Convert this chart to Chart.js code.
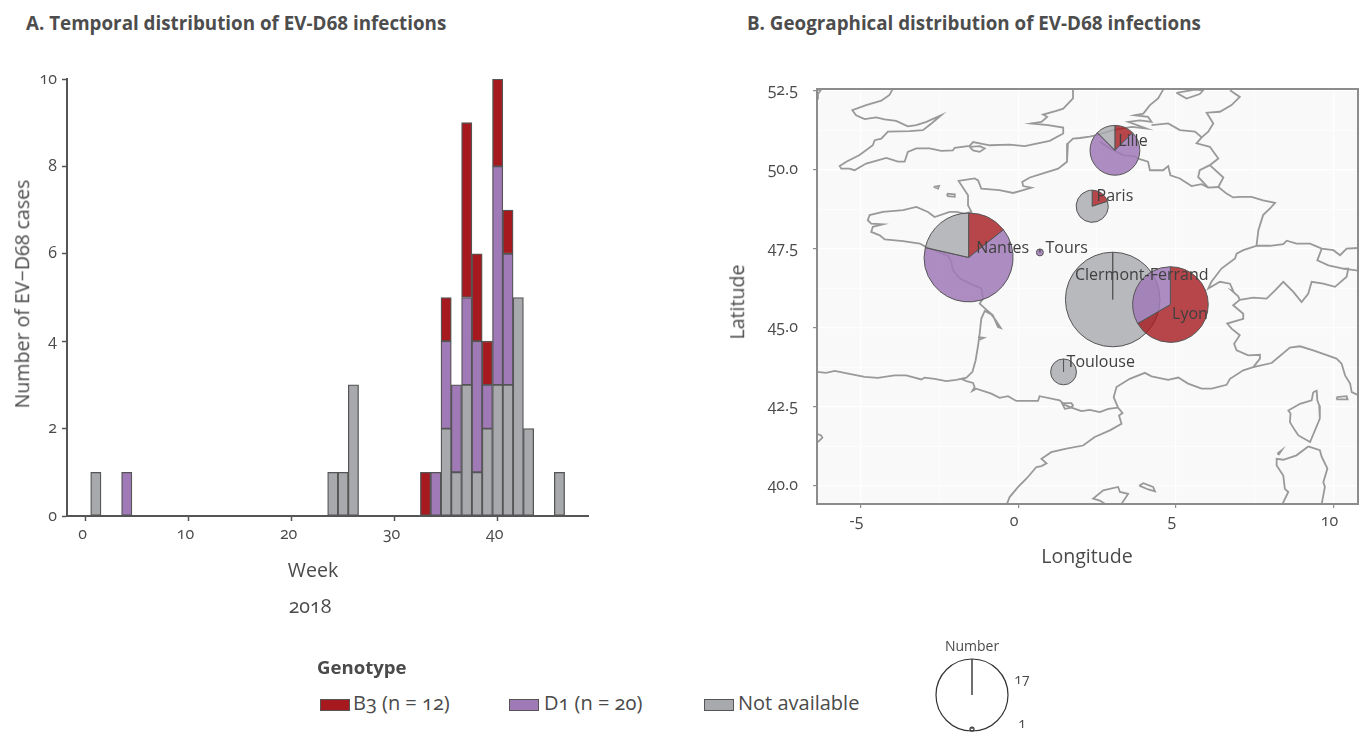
<!DOCTYPE html>
<html>
<head>
<meta charset="utf-8">
<script src="https://cdn.jsdelivr.net/npm/chart.js@4"></script>
<style>
  body { margin: 0; background: #fff; width: 1365px; height: 733px; overflow: hidden; position: relative;
         font-family: "Open Sans", sans-serif; color: #4a4a4a; font-variant-numeric: oldstyle-nums; }
  canvas { position: absolute; }
  .txt { position: absolute; white-space: nowrap; line-height: 1; }
  .title { font-weight: 700; font-size: 18.8px; top: 14px; color: #4d4d4d; }
  .axis { font-size: 19.6px; font-weight: 400; }
  .rot { transform: translate(-50%, -50%) rotate(-90deg); }
  .mid { transform: translate(-50%, -50%); }
  .swatch { position: absolute; width: 28px; height: 10px; border: 1.5px solid #555; }
  .leg { font-size: 20px; top: 693px; }
</style>
</head>
<body>
<div class="txt title" style="left:26px">A. Temporal distribution of EV-D68 infections</div>
<div class="txt title" style="left:747px">B. Geographical distribution of EV-D68 infections</div>

<canvas id="weekChart" width="600" height="500" style="left:0;top:70px"></canvas>
<canvas id="mapChart" width="645" height="510" style="left:720px;top:70px"></canvas>
<canvas id="sizeChart" width="84" height="80" style="left:930px;top:653px"></canvas>

<div class="txt axis rot" style="left:22px;top:294px">Number of EV−D68 cases</div>
<div class="txt axis mid" style="left:313px;top:570px">Week</div>
<div class="txt axis mid" style="left:310px;top:606px">2018</div>
<div class="txt axis rot" style="left:737px;top:302px">Latitude</div>
<div class="txt axis mid" style="left:1087px;top:556px">Longitude</div>

<div class="txt" style="left:317px;top:658px;font-size:18.6px;font-weight:700">Genotype</div>
<div class="swatch" style="left:320px;top:699px;background:#a6191e"></div>
<div class="txt leg" style="left:353px">B3 (n = 12)</div>
<div class="swatch" style="left:509px;top:699px;background:#a079b7"></div>
<div class="txt leg" style="left:544px">D1 (n = 20)</div>
<div class="swatch" style="left:704px;top:699px;background:#a7a9ac"></div>
<div class="txt leg" style="left:738px">Not available</div>
<div class="txt mid" style="left:972px;top:646px;font-size:14px">Number</div>
<div class="txt mid" style="left:1022px;top:679px;font-size:14px">17</div>
<div class="txt mid" style="left:1022px;top:723px;font-size:14px">1</div>

<script>
// weekly counts
const weeks   = [1, 4, 24, 25, 26, 33, 34, 35, 36, 37, 38, 39, 40, 41, 42, 43, 46];
const casesNA = [1, 0, 1, 1, 3, 0, 0, 2, 1, 3, 1, 2, 3, 3, 5, 2, 1];
const casesD1 = [0, 1, 0, 0, 0, 0, 1, 2, 2, 2, 3, 1, 5, 3, 0, 0, 0];
const casesB3 = [0, 0, 0, 0, 0, 1, 0, 1, 0, 4, 2, 1, 2, 1, 0, 0, 0];

// sites on the map
const siteNames = ['Clermont-Ferrand', 'Lyon', 'Nantes', 'Lille', 'Paris', 'Tours', 'Toulouse'];
const siteLon   = [3.00, 4.83, -1.57, 3.07, 2.35, 0.69, 1.44];
const siteLat   = [45.89, 45.73, 47.22, 50.61, 48.84, 47.38, 43.60];
const siteB3    = [0, 6, 2, 1, 1, 0, 0];
const siteD1    = [0, 3, 9, 6, 0, 1, 0];
const siteNA    = [17, 0, 3, 1, 4, 0, 2];
const siteSizeDeg = [1.50, 1.20, 1.41, 0.79, 0.51, 0.11, 0.41];
const labelLon  = [3.92, 5.45, -0.49, 3.64, 3.07, 1.54, 2.62];
const labelLat  = [46.66, 45.42, 47.51, 50.90, 49.16, 47.51, 43.90];

// size legend
const sizeLegendValues = [17, 1];

// map outlines, [lon, lat]
const england = [[-3.99,52.53],[-4.08,52.36],[-4.34,52.18],[-4.82,52.04],[-5.26,51.88],[-5.14,51.72],[-4.87,51.60],[-4.50,51.65],[-4.24,51.59],[-3.87,51.54],[-3.50,51.37],[-3.23,51.41],[-2.91,51.51],[-2.44,51.72],[-2.75,51.46],[-3.02,51.25],[-3.44,51.22],[-4.13,51.20],[-4.34,50.98],[-4.55,50.93],[-4.61,50.77],[-5.03,50.46],[-5.45,50.25],[-5.66,50.11],[-5.61,50.03],[-5.35,50.03],[-5.19,49.98],[-4.82,50.19],[-4.18,50.37],[-3.81,50.25],[-3.60,50.25],[-3.50,50.56],[-3.23,50.67],[-2.81,50.67],[-2.44,50.59],[-2.07,50.61],[-2.01,50.69],[-1.54,50.75],[-1.43,50.87],[-0.90,50.77],[-0.27,50.79],[0.21,50.74],[1.00,50.91],[1.43,51.14],[1.43,51.33],[0.95,51.41],[0.42,51.46],[0.74,51.51],[0.92,51.67],[0.79,51.74],[1.21,51.86],[1.43,51.93],[1.74,52.25],[1.74,52.53]];
const wight = [[-1.54,50.72],[-1.22,50.74],[-1.06,50.67],[-1.22,50.56],[-1.43,50.61],[-1.54,50.72]];
const atlanticCoast = [[4.60,52.53],[4.44,52.25],[4.18,52.04],[3.97,51.77],[3.70,51.72],[4.12,51.67],[4.23,51.51],[3.86,51.56],[3.49,51.51],[4.07,51.30],[3.60,51.35],[3.01,51.25],[2.49,51.09],[2.27,51.04],[1.96,51.00],[1.74,50.98],[1.58,50.83],[1.55,50.25],[1.27,50.03],[0.79,49.88],[0.37,49.75],[0.13,49.61],[0.16,49.48],[0.42,49.43],[0.16,49.35],[-0.16,49.26],[-0.59,49.35],[-1.17,49.40],[-1.27,49.66],[-1.38,49.72],[-1.89,49.64],[-1.59,49.19],[-1.59,48.87],[-1.48,48.66],[-1.70,48.61],[-1.96,48.66],[-2.17,48.66],[-2.65,48.50],[-2.86,48.66],[-3.23,48.82],[-3.65,48.72],[-4.29,48.66],[-4.71,48.56],[-4.77,48.40],[-4.66,48.29],[-4.29,48.27],[-4.61,48.19],[-4.66,48.03],[-4.39,47.92],[-4.23,47.79],[-3.65,47.74],[-3.12,47.66],[-2.97,47.58],[-2.54,47.40],[-2.22,47.27],[-2.12,47.08],[-2.07,46.82],[-1.85,46.55],[-1.54,46.40],[-1.17,46.24],[-1.11,45.92],[-1.22,45.76],[-1.01,45.57],[-0.80,45.39],[-0.64,45.02],[-0.55,44.99],[-0.71,45.23],[-0.85,45.42],[-1.06,45.53],[-1.17,45.28],[-1.22,44.81],[-1.27,44.44],[-1.35,43.96],[-1.45,43.60],[-1.64,43.42],[-1.96,43.35],[-2.28,43.31],[-2.65,43.38],[-2.97,43.42],[-3.07,43.36],[-3.55,43.49],[-3.92,43.49],[-4.45,43.41],[-4.87,43.44],[-5.35,43.54],[-5.82,43.63],[-6.09,43.57],[-6.38,43.60]];
const arcachon = [[-1.27,44.70],[-1.09,44.68],[-1.22,44.62]];
const pyrenees = [[-1.80,43.38],[-1.64,43.31],[-1.43,43.25],[-1.38,43.12],[-1.45,43.00],[-1.33,43.07],[-0.85,42.91],[-0.59,42.78],[-0.32,42.83],[-0.06,42.68],[0.63,42.68],[0.68,42.83],[1.32,42.70],[1.42,42.61],[1.69,42.61],[1.74,42.54],[1.69,42.47],[1.48,42.43],[1.40,42.59],[1.69,42.47],[2.01,42.36],[2.27,42.40],[2.59,42.33],[2.86,42.43],[3.17,42.47]];
const spainEast = [[3.17,42.47],[3.31,42.30],[3.20,42.22],[3.28,41.96],[2.91,41.75],[2.43,41.54],[2.06,41.27],[1.53,41.17],[1.05,41.06],[0.74,40.85],[0.90,40.71],[0.74,40.62],[0.58,40.59],[0.26,40.22],[0.00,39.96],[-0.27,39.64],[-0.35,39.43]];
const medCoast = [[3.17,42.47],[3.03,42.80],[3.12,43.12],[3.54,43.38],[4.02,43.57],[4.23,43.46],[4.76,43.35],[5.08,43.42],[5.39,43.23],[5.82,43.07],[6.14,43.07],[6.61,43.19],[6.72,43.38],[7.14,43.65],[7.46,43.75],[8.04,43.88],[8.62,44.37],[8.94,44.41],[9.36,44.28],[10.10,44.02],[10.26,43.86],[10.37,43.49],[10.53,43.23],[10.58,42.96],[10.79,42.86]];
const frenchAlps = [[7.46,43.75],[7.67,44.02],[7.67,44.14],[7.30,44.12],[6.93,44.28],[6.85,44.49],[7.03,44.76],[6.77,44.97],[6.63,45.13],[7.14,45.28],[7.14,45.44],[6.82,45.71],[7.03,45.88],[7.46,45.95],[7.88,45.92],[8.15,46.18],[8.41,46.45],[8.73,46.13],[8.99,45.81],[9.20,46.07],[9.31,46.45],[9.68,46.39],[10.05,46.29],[10.42,46.61],[10.47,46.87],[10.31,46.87]];
const rhineJura = [[6.35,49.45],[6.61,49.24],[6.82,49.12],[7.03,49.14],[7.40,49.14],[7.77,49.03],[8.15,48.95],[7.99,48.77],[7.77,48.56],[7.62,48.08],[7.56,47.59],[7.14,47.45],[6.93,47.34],[6.88,47.19],[6.45,46.87],[6.13,46.45],[6.03,46.24],[6.40,46.45],[6.72,46.39],[6.82,46.16],[6.77,46.18],[6.98,45.99],[7.03,45.88]];
const swissNorth = [[7.56,47.59],[7.99,47.59],[8.41,47.64],[8.52,47.75],[8.83,47.66],[9.26,47.66],[9.63,47.50],[10.00,47.45],[10.21,47.29],[10.42,47.50],[10.79,47.52]];
const swissEast = [[9.63,47.50],[9.49,47.13],[9.84,46.97],[10.31,46.87],[10.79,46.80]];
const belgiumSouth = [[2.59,50.88],[2.91,50.67],[3.33,50.46],[3.70,50.42],[3.86,50.33],[4.12,50.25],[4.18,49.98],[4.60,49.98],[4.76,50.11],[4.83,49.82],[5.13,49.72],[5.50,49.48],[5.82,49.54],[6.03,49.43],[6.35,49.45]];
const belgiumNorth = [[4.23,51.41],[4.76,51.46],[5.13,51.25],[5.61,51.20],[5.82,51.02],[5.66,50.83],[6.08,50.72],[6.35,50.35],[6.08,50.14],[5.76,49.98],[5.71,49.77],[6.03,49.43]];
const luxembourg = [[6.08,50.14],[6.51,49.75],[6.35,49.45]];
const germanyWest = [[6.72,52.51],[7.03,52.30],[6.77,52.04],[6.40,51.83],[5.98,51.80],[6.19,51.46],[6.03,51.20],[5.82,51.02]];
const ijsselmeer = [[5.02,52.43],[5.61,52.53],[5.87,52.51],[5.76,52.39],[5.34,52.25],[5.02,52.43]];
const corsica = [[9.36,42.96],[9.47,43.00],[9.49,42.70],[9.55,42.54],[9.57,42.12],[9.26,41.38],[8.89,41.59],[8.78,41.75],[8.62,42.01],[8.64,42.28],[8.57,42.38],[8.94,42.59],[9.31,42.70],[9.36,42.96]];
const sardiniaEast = [[9.20,41.24],[9.57,41.12],[9.63,40.91],[9.81,40.54],[9.68,40.11],[9.73,39.96],[9.63,39.43]];
const sardiniaWest = [[9.20,41.24],[8.83,40.96],[8.41,40.82],[8.20,40.85],[8.20,40.64],[8.41,40.32],[8.46,39.90],[8.57,39.80],[8.39,39.43]];
const asinara = [[8.22,41.01],[8.36,41.12],[8.27,40.99],[8.22,41.01]];
const mallorca = [[2.75,39.43],[2.59,39.53],[2.38,39.59],[2.70,39.85],[3.17,39.96],[3.23,39.80],[3.49,39.74],[3.28,39.43]];
const minorca = [[3.84,40.00],[3.97,40.08],[4.28,39.96],[4.34,39.82],[4.13,39.88],[3.84,40.00]];
const elba = [[10.10,42.80],[10.42,42.83],[10.45,42.73],[10.12,42.73],[10.10,42.80]];
const jersey = [[-2.68,49.45],[-2.51,49.48],[-2.54,49.40],[-2.68,49.45]];
const guernsey = [[-2.26,49.24],[-2.01,49.22],[-2.01,49.14],[-2.23,49.16],[-2.26,49.24]];
const portugalBit = [[-6.38,41.64],[-6.25,41.59],[-6.21,41.52],[-6.35,41.38]];
const irelandBit = [[-6.38,52.52],[-6.25,52.53],[-6.35,52.39],[-6.35,52.22]];
const mapPaths = [england, wight, atlanticCoast, arcachon, pyrenees, spainEast, medCoast, frenchAlps, rhineJura,
    swissNorth, swissEast, belgiumSouth, belgiumNorth, luxembourg, germanyWest, ijsselmeer, corsica, sardiniaEast,
    sardiniaWest, asinara, mallorca, minorca, elba, jersey, guernsey, portugalBit, irelandBit];

const TEXT = '#4a4a4a';
const RED = '#a6191e', PURPLE = '#a079b7', GREY = '#a7a9ac';
const TICK_FONT = { family: 'Open Sans', size: 16 };

function weekSeries(values, color) {
    return {
        data: weeks.map((w, i) => ({ x: w, y: values[i] })).filter(d => d.y > 0),
        backgroundColor: color,
        borderColor: '#555',
        borderWidth: 1.3,
        borderSkipped: false,
        barThickness: 10.3
    };
}

// the chart area has to land on fixed pixels, so drop the room kept for tick labels
function fixBox(size) {
    return s => {
        Object.assign(s, size);
        s.paddingTop = 0;
        s.paddingBottom = 0;
        s.paddingLeft = 0;
        s.paddingRight = 0;
    };
}

// A. weekly bars
new Chart(document.getElementById('weekChart'), {
    type: 'bar',
    data: { datasets: [weekSeries(casesNA, GREY), weekSeries(casesD1, PURPLE), weekSeries(casesB3, RED)] },
    options: {
        responsive: false,
        animation: false,
        layout: { padding: { top: 9, right: 12 } },
        plugins: { legend: { display: false }, tooltip: { enabled: false } },
        scales: {
            x: {
                type: 'linear', stacked: true, offset: false, min: -1.8, max: 48.77,
                afterFit: fixBox({ height: 54 }),
                grid: { offset: false, drawOnChartArea: false, tickLength: 5, tickColor: '#555', tickWidth: 1.5 },
                border: { color: '#555', width: 2 },
                ticks: { stepSize: 10, includeBounds: false, maxRotation: 0, color: TEXT, padding: 4, labelOffset: -3, font: TICK_FONT }
            },
            y: {
                stacked: true, min: 0, max: 10,
                afterFit: fixBox({ width: 67 }),
                grid: { drawOnChartArea: false, tickLength: 5, tickColor: '#555', tickWidth: 1.5 },
                border: { color: '#555', width: 2 },
                ticks: { stepSize: 2, color: TEXT, padding: 5, font: TICK_FONT }
            }
        }
    }
});

// B. pies and labels go through the map scales
const piePlugin = {
    id: 'sitePies',
    beforeDraw(chart) {
        const a = chart.chartArea;
        chart.ctx.fillStyle = '#f9f9f9';
        chart.ctx.fillRect(a.left, a.top, a.width, a.height);
    },
    afterDatasetsDraw(chart) {
        const ctx = chart.ctx, sx = chart.scales.x, sy = chart.scales.y, a = chart.chartArea;
        ctx.save();
        ctx.strokeStyle = '#8c8c8c';
        ctx.lineWidth = 2;
        ctx.strokeRect(a.left, a.top, a.width, a.height);

        siteNames.forEach((name, i) => {
            const cx = sx.getPixelForValue(siteLon[i]);
            const cy = sy.getPixelForValue(siteLat[i]);
            const r = sx.getPixelForValue(siteLon[i] + siteSizeDeg[i]) - cx;
            const parts = [[siteB3[i], 'rgba(166,25,30,0.8)'], [siteD1[i], 'rgba(160,121,183,0.85)'], [siteNA[i], 'rgba(167,169,172,0.8)']];
            const total = siteB3[i] + siteD1[i] + siteNA[i];
            let start = -Math.PI / 2;
            parts.forEach(([n, color]) => {
                if (!n) return;
                const end = start + n / total * Math.PI * 2;
                ctx.beginPath();
                ctx.moveTo(cx, cy);
                ctx.arc(cx, cy, r, start, end);
                ctx.closePath();
                ctx.fillStyle = color;
                ctx.fill();
                ctx.strokeStyle = '#555';
                ctx.lineWidth = 1;
                ctx.stroke();
                start = end;
            });
        });

        ctx.fillStyle = '#404040';
        ctx.font = '16px "Open Sans"';
        ctx.textAlign = 'center';
        ctx.textBaseline = 'middle';
        siteNames.forEach((name, i) => {
            ctx.fillText(name, sx.getPixelForValue(labelLon[i]), sy.getPixelForValue(labelLat[i]));
        });
        ctx.restore();
    }
};

const isMajor = v => Math.abs(v / 2.5 - Math.round(v / 2.5)) < 1e-6;

new Chart(document.getElementById('mapChart'), {
    type: 'scatter',
    data: {
        datasets: mapPaths.map(path => ({
            data: path.map(p => ({ x: p[0], y: p[1] })),
            showLine: true,
            pointRadius: 0,
            borderColor: '#999',
            borderWidth: 1.8,
            tension: 0
        }))
    },
    options: {
        responsive: false,
        animation: false,
        layout: { padding: { top: 19, right: 7 } },
        plugins: { legend: { display: false }, tooltip: { enabled: false } },
        scales: {
            x: {
                type: 'linear', min: -6.38, max: 10.78,
                afterFit: fixBox({ height: 76 }),
                grid: {
                    color: '#fff',
                    lineWidth: c => c.tick && c.tick.value % 5 === 0 ? 1.2 : 0.6,
                    tickLength: 4,
                    tickColor: c => c.tick && c.tick.value % 5 === 0 ? '#8c8c8c' : 'rgba(0,0,0,0)'
                },
                border: { display: false },
                ticks: {
                    stepSize: 2.5, includeBounds: false, autoSkip: false, maxRotation: 0, color: TEXT, padding: 4, labelOffset: -4,
                    font: TICK_FONT,
                    callback: v => v % 5 === 0 ? String(v) : ''
                }
            },
            y: {
                type: 'linear', min: 39.42, max: 52.55,
                afterFit: fixBox({ width: 97 }),
                grid: {
                    color: '#fff',
                    lineWidth: c => c.tick && isMajor(c.tick.value) ? 1.2 : 0.6,
                    tickLength: 4,
                    tickColor: c => c.tick && isMajor(c.tick.value) ? '#8c8c8c' : 'rgba(0,0,0,0)'
                },
                border: { display: false },
                ticks: {
                    stepSize: 1.25, includeBounds: false, autoSkip: false, color: TEXT, padding: 15,
                    font: TICK_FONT,
                    callback: v => isMajor(v) ? v.toFixed(1) : ''
                }
            }
        }
    },
    plugins: [piePlugin]
});

// size legend, circles sit on the same baseline
const legendRadius = n => (n === sizeLegendValues[0] ? 36 : 2);
new Chart(document.getElementById('sizeChart'), {
    type: 'scatter',
    data: {
        datasets: sizeLegendValues.map(n => ({
            // circle centre, then its top: the line is the tick up from the centre
            data: [{ x: 0, y: legendRadius(n) + 2 }, { x: 0, y: 2 * legendRadius(n) + 2 }],
            showLine: true,
            borderColor: '#333',
            borderWidth: 1.4,
            pointRadius: [legendRadius(n), 0],
            pointBackgroundColor: 'rgba(0,0,0,0)',
            pointBorderColor: '#333',
            pointBorderWidth: 1.2,
            clip: false
        }))
    },
    options: {
        responsive: false,
        animation: false,
        // autoPadding would reserve the big circle's radius and squash the scales
        layout: { autoPadding: false, padding: 0 },
        plugins: { legend: { display: false }, tooltip: { enabled: false } },
        scales: {
            x: { type: 'linear', display: false, min: -42, max: 42 },
            y: { type: 'linear', display: false, min: 0, max: 80 }
        }
    }
});
</script>
</body>
</html>
